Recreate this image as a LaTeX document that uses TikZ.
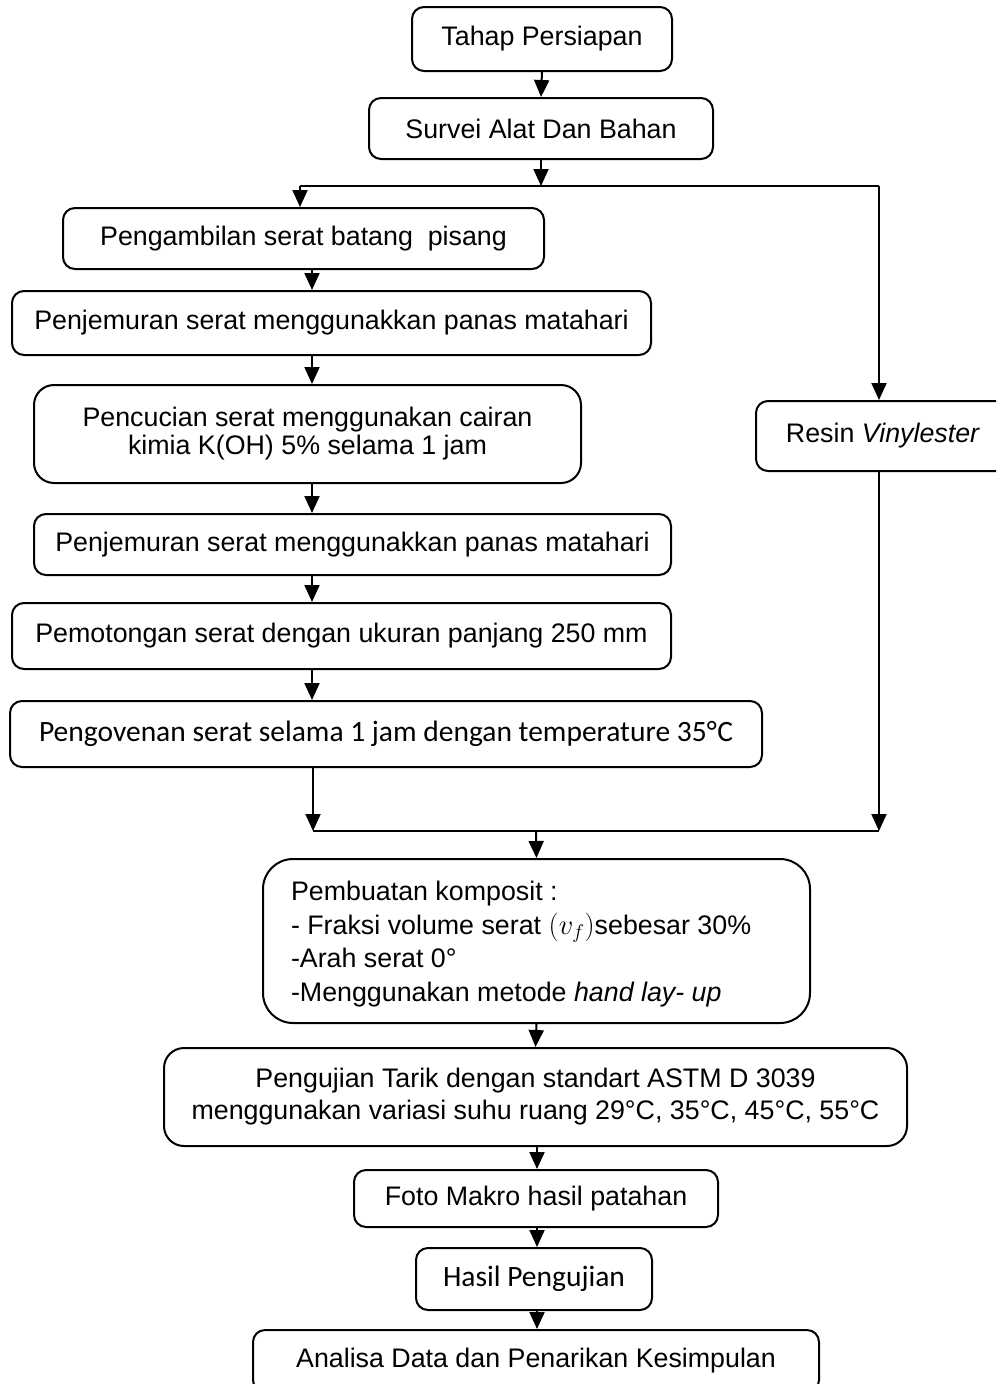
\documentclass[tikz,border=0pt]{standalone}
\usepackage{fontspec}
\setmainfont{Liberation Sans}
\newfontfamily\calibri{Carlito}
\usetikzlibrary{arrows.meta}
\begin{document}
\begin{tikzpicture}[x=1pt,y=-1pt, line width=2pt,
  box/.style={draw, rounded corners=12pt, inner sep=0pt, align=center, font=\fontsize{26.8}{30}\selectfont},
  cbox/.style={box, font=\calibri\fontsize{29.5}{34}\selectfont},
  arr/.style={-{Triangle[length=17pt,width=15pt]}}]
\clip (0,0) rectangle (996,1384);
\fill[white] (0,0) rectangle (996,1384);
% boxes
\node[box, minimum width=260pt, minimum height=64pt] (tahap) at (542,39) {Tahap Persiapan};
\node[box, minimum width=344pt, minimum height=61pt] (survei) at (541,128.5) {Survei Alat Dan Bahan};
\node[box, minimum width=481pt, minimum height=61pt] (ambil) at (303.5,238.5) {Pengambilan serat batang \ pisang};
\node[box, minimum width=639pt, minimum height=64pt] (jemur1) at (331.5,323) {Penjemuran serat menggunakkan panas matahari};
\node[box, rounded corners=20pt, minimum width=547pt, minimum height=98pt, font=\fontsize{26.8}{28}\selectfont] (cuci) at (307.5,434) {Pencucian serat menggunakan cairan\\kimia K(OH) 5\% selama 1 jam};
\node[box, minimum width=637pt, minimum height=61pt] (jemur2) at (352.5,544.5) {Penjemuran serat menggunakkan panas matahari};
\node[box, minimum width=659pt, minimum height=66pt] (potong) at (341.5,636) {Pemotongan serat dengan ukuran panjang 250 mm};
\node[cbox, minimum width=752pt, minimum height=66pt] (oven) at (386,734) {Pengovenan serat selama 1 jam dengan temperature 35°\kern0.5pt C};
\node[box, minimum width=254pt, minimum height=70pt] (resin) at (883,436) {Resin \textit{Vinylester}};
\node[box, rounded corners=30pt, minimum width=547pt, minimum height=164pt] (komp) at (536.5,941) {};
\node[anchor=west, align=left, inner sep=0pt, font=\fontsize{26.8}{33.5}\selectfont] (kompt) at (290,944) {Pembuatan komposit :\\- Fraksi volume serat $\mathsurround=0pt\scalebox{1.15}{$(v_f)$}$sebesar 30\%\\-Arah serat 0°\\-Menggunakan metode \textit{hand lay- up}};
\node[box, rounded corners=20pt, minimum width=743pt, minimum height=98pt, font=\fontsize{26.8}{32}\selectfont] (uji) at (535.5,1097) {Pengujian Tarik dengan standart ASTM D 3039\\menggunakan variasi suhu ruang 29°C, 35°C, 45°C, 55°C};
\node[box, minimum width=364pt, minimum height=57pt] (foto) at (536,1198.5) {Foto Makro hasil patahan};
\node[cbox, minimum width=236pt, minimum height=62pt] (hasil) at (534,1279) {Hasil Pengujian};
\node[box, minimum width=566pt, minimum height=62pt] (analisa) at (536,1361) {Analisa Data dan Penarikan Kesimpulan};
% coordinates
\coordinate (lsplit) at (300,186);
\coordinate (rsplit) at (879,186);
\coordinate (cl) at (312,0);
\coordinate (jl) at (313,831);
\coordinate (jr) at (879,831);
\coordinate (jm) at (536,831);
\coordinate (cm) at (537,0);
% connectors
\draw[arr] (tahap.south) -- (survei.north);
\draw[arr] (survei.south) -- (survei.south |- lsplit);
\draw (lsplit) -- (rsplit);
\draw[arr] (lsplit) -- (lsplit |- ambil.north);
\draw[arr] (rsplit) -- (rsplit |- resin.north);
\draw[arr] (ambil.south -| cl) -- (jemur1.north -| cl);
\draw[arr] (jemur1.south -| cl) -- (cuci.north -| cl);
\draw[arr] (cuci.south -| cl) -- (jemur2.north -| cl);
\draw[arr] (jemur2.south -| cl) -- (potong.north -| cl);
\draw[arr] (potong.south -| cl) -- (oven.north -| cl);
\draw[arr] (oven.south -| jl) -- (jl);
\draw (jl) -- (jr);
\draw[arr] (resin.south -| jr) -- (jr);
\draw[arr] (jm) -- (komp.north);
\draw[arr] (komp.south) -- (uji.north);
\draw[arr] (uji.south -| cm) -- (foto.north -| cm);
\draw[arr] (foto.south -| cm) -- (hasil.north -| cm);
\draw[arr] (hasil.south -| cm) -- (analisa.north -| cm);
\end{tikzpicture}
\end{document}
